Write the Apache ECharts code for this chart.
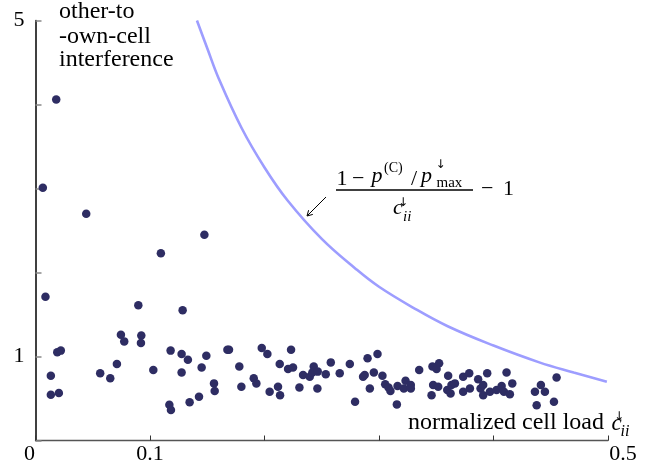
<!DOCTYPE html>
<html>
<head>
<meta charset="utf-8">
<script src="https://cdn.jsdelivr.net/npm/echarts@6/dist/echarts.min.js"></script>
<style>html,body{margin:0;padding:0;background:#fff;}#c{width:664px;height:475px;}</style>
</head>
<body>
<div id="c"></div>
<script>
// ---- data ----
var cellLoad = [0.0181,0.0064,0.0443,0.1475,0.1095,0.0087,0.0898,0.1285,0.0746,0.0775,0.0924,0.0921,0.0190,0.0221,0.1180,0.1276,0.0134,0.0711,0.0565,0.0653,0.1029,0.1276,0.0134,0.0204,0.1169,0.1183,0.1331,0.1492,0.1451,0.1559,0.1565,0.1346,0.1428,0.1676,0.1690,0.1780,0.1798,0.1906,0.1929,0.1976,0.2025,0.2045,0.2118,0.2136,0.2133,0.2232,0.2206,0.2249,0.2305,0.2337,0.2395,0.2430,0.2418,0.2462,0.2465,0.2535,0.2579,0.2657,0.2745,0.2791,0.2861,0.2875,0.2900,0.2920,0.2955,0.2987,0.3030,0.3054,0.3083,0.3100,0.3156,0.3162,0.3217,0.3232,0.3278,0.3278,0.3351,0.3467,0.3525,0.3503,0.3473,0.3517,0.3459,0.3604,0.3596,0.3633,0.3663,0.3625,0.3735,0.3788,0.3735,0.3794,0.3866,0.3945,0.3887,0.3910,0.3910,0.3969,0.4027,0.4071,0.4091,0.4114,0.4164,0.4143,0.4362,0.4414,0.4449,0.4377,0.4528,0.4551];
var interference = [4.06,3.01,2.70,2.45,2.23,1.71,1.61,1.55,1.26,1.18,1.25,1.16,1.05,1.07,1.07,1.03,0.77,0.91,0.80,0.74,0.84,0.81,0.545,0.565,0.426,0.363,0.96,1.01,0.87,0.68,0.59,0.455,0.52,1.08,1.08,0.88,0.64,0.74,0.68,1.10,1.03,0.58,0.64,0.54,0.91,1.08,0.85,0.87,0.63,0.78,0.76,0.88,0.81,0.62,0.82,0.79,0.93,0.80,0.91,0.46,0.76,0.78,0.98,0.62,0.81,1.03,0.77,0.67,0.63,0.59,0.43,0.65,0.62,0.71,0.66,0.62,0.84,0.88,0.92,0.85,0.66,0.64,0.54,0.77,0.60,0.66,0.68,0.56,0.76,0.80,0.58,0.62,0.73,0.80,0.62,0.66,0.54,0.58,0.60,0.65,0.58,0.81,0.68,0.55,0.58,0.66,0.58,0.42,0.46,0.75];
var boundLoad  = [0.141,0.15,0.16,0.18,0.20,0.22,0.25,0.28,0.30,0.33,0.36,0.40,0.44,0.47,0.499];
var boundValue = [5.00,4.67,4.31,3.72,3.25,2.86,2.40,2.04,1.83,1.58,1.36,1.13,0.93,0.81,0.70];
var xTickLabels = [0, 0.1, 0.5];
var yTickLabels = [1, 5];

var SERIF = '"Liberation Serif", "DejaVu Serif", serif';
var scatterData = cellLoad.map(function (x, i) { return [x, interference[i]]; });
var boundData = boundLoad.map(function (x, i) { return [x, boundValue[i]]; });

function has(arr, v) { return arr.some(function (a) { return Math.abs(a - v) < 1e-9; }); }

var chart = echarts.init(document.getElementById('c'), null, {renderer: 'canvas'});

function txt(text, x, y, size, opts) {
  opts = opts || {};
  return {
    type: 'text', x: x, y: y, z: 100,
    style: {
      text: text,
      font: (opts.italic ? 'italic ' : '') + size + 'px ' + (opts.family || SERIF),
      fill: '#000',
      align: opts.align || 'left',
      verticalAlign: 'middle'
    }
  };
}
var ARW = '"DejaVu Sans", sans-serif';

var graphics = [
  txt('other-to', 59, 12, 24),
  txt('-own-cell', 59, 36.5, 24),
  txt('interference', 59, 60, 24),
  txt('normalized cell load', 604, 423, 24, {align: 'right'}),
  txt('c', 611.5, 424, 23, {italic: true}),
  txt('\u2193', 619, 417, 12, {align: 'center', family: ARW}),
  txt('ii', 620.5, 432, 16, {italic: true}),
  // annotation formula
  txt('1', 336.5, 179, 22),
  txt('\u2212', 352, 179, 22),
  txt('p', 371.5, 176.5, 22, {italic: true}),
  txt('(C)', 384, 168, 14),
  txt('/', 411, 179, 22),
  txt('p', 421, 176.5, 22, {italic: true}),
  txt('\u2193', 440.5, 165, 12, {align: 'center', family: ARW}),
  txt('max', 436.5, 183, 15),
  txt('c', 393, 208, 22, {italic: true}),
  txt('\u2193', 403, 203, 12, {align: 'center', family: ARW}),
  txt('ii', 403, 217, 15, {italic: true}),
  txt('\u2212', 481, 189.5, 22),
  txt('1', 503, 189.5, 22),
  {type: 'line', z: 100, shape: {x1: 336, y1: 190, x2: 473, y2: 190}, style: {stroke: '#000', lineWidth: 1.6}},
  {type: 'line', z: 100, shape: {x1: 326, y1: 197, x2: 307.5, y2: 215.5}, style: {stroke: '#000', lineWidth: 1}},
  {type: 'polyline', z: 100, shape: {points: [[312.8, 214.4], [307, 216], [308.6, 210.2]]}, style: {stroke: '#000', lineWidth: 1, fill: null}}
];

chart.setOption({
  animation: false,
  backgroundColor: '#fff',
  grid: {left: 35.5, right: 56, top: 20.5, bottom: 34.5, containLabel: false},
  xAxis: {
    type: 'value', min: 0, max: 0.5, interval: 0.1,
    axisLine: {show: true, onZero: false, lineStyle: {color: '#555', width: 1.3}},
    axisTick: {show: true, inside: true, length: 5, lineStyle: {color: '#333', width: 1}},
    splitLine: {show: false},
    axisLabel: {
      show: true, margin: 3, showMinLabel: true, showMaxLabel: true, hideOverlap: false,
      fontFamily: SERIF, fontSize: 22, color: '#000',
      formatter: function (v) {
        if (!has(xTickLabels, v)) return '';
        if (Math.abs(v) < 1e-9) return '{l|0}';
        if (Math.abs(v - 0.5) < 1e-9) return '{r|0.5}';
        return String(v);
      },
      rich: {
        l: {fontFamily: SERIF, fontSize: 22, color: '#000', padding: [0, 12, 0, 0]},
        r: {fontFamily: SERIF, fontSize: 22, color: '#000', padding: [0, 0, 0, 30]}
      }
    }
  },
  yAxis: {
    type: 'value', min: 0, max: 5, interval: 1,
    axisLine: {show: true, onZero: false, lineStyle: {color: '#000', width: 1.5}},
    axisTick: {show: true, inside: true, length: 6, lineStyle: {color: '#888', width: 1.5}},
    splitLine: {show: false},
    axisLabel: {
      show: true, margin: 11, showMinLabel: true, showMaxLabel: true, hideOverlap: false,
      fontFamily: SERIF, fontSize: 22, color: '#000', padding: [6, 0, 0, 0],
      formatter: function (v) { return has(yTickLabels, v) ? String(v) : ''; }
    }
  },
  series: [
    {
      type: 'line', data: boundData, smooth: 0.4, showSymbol: false, symbol: 'none',
      lineStyle: {color: '#9d9dff', width: 2.6}, clip: true, z: 2
    },
    {
      type: 'scatter', data: scatterData, symbol: 'circle', symbolSize: 8.5,
      itemStyle: {color: '#2e2d63', opacity: 1}, z: 3
    }
  ],
  graphic: graphics
});
</script>
</body>
</html>
